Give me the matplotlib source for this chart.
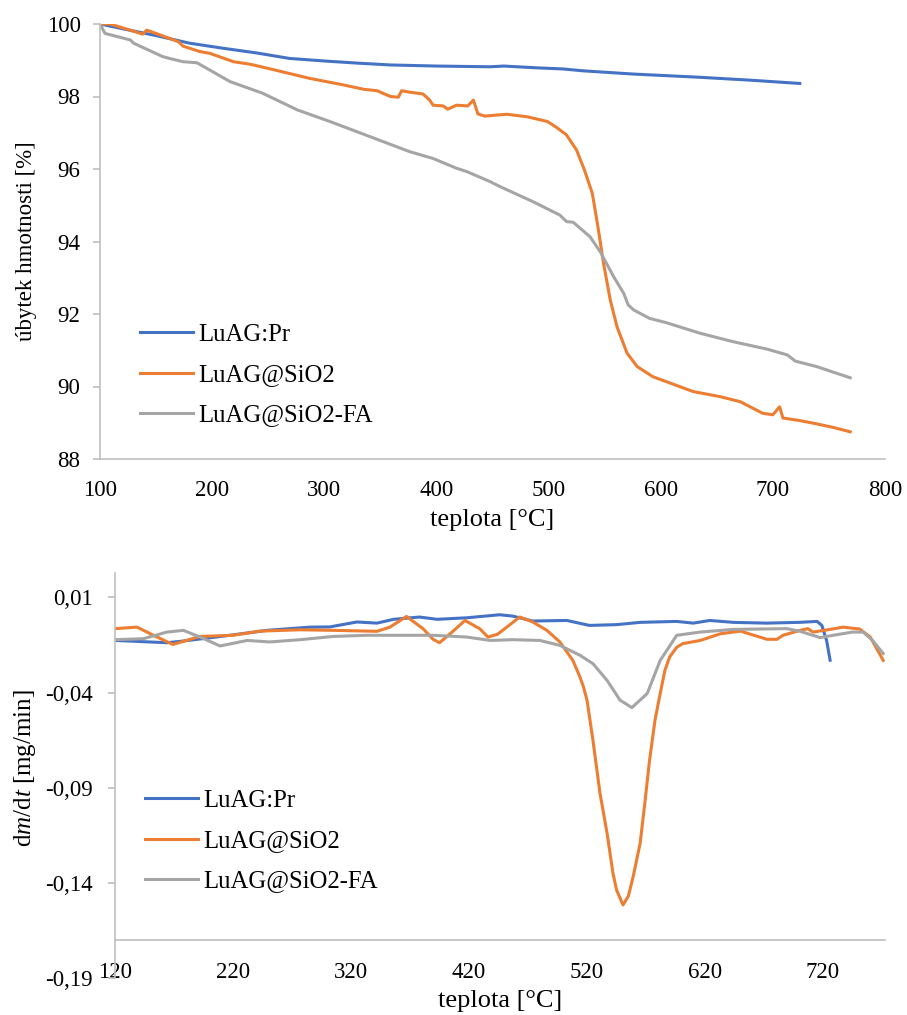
import matplotlib
matplotlib.use('Agg')
import matplotlib.pyplot as plt

plt.rcParams['font.family'] = ['Liberation Serif', 'DejaVu Serif']
plt.rcParams['font.size'] = 16.5
plt.rcParams['mathtext.fontset'] = 'custom'
plt.rcParams['mathtext.rm'] = 'Liberation Serif'
plt.rcParams['mathtext.it'] = 'Liberation Serif:italic'

# --- TG: mass loss [%] ---
t_pr = [100, 120, 150, 180, 210, 240, 269, 300, 330, 359, 400, 448, 460, 490, 513, 530,
        575, 635, 680, 724]
m_pr = [100, 99.87, 99.68, 99.47, 99.33, 99.2, 99.05, 98.98, 98.92, 98.87, 98.84, 98.82,
        98.84, 98.79, 98.76, 98.71, 98.62, 98.53, 98.45, 98.36]

t_sio2 = [100, 109, 130, 138, 141.6, 150, 170, 174, 189, 198, 219, 234, 252, 287, 317, 335,
          347, 359, 366, 369, 376, 388, 394, 397, 406, 410, 418, 428, 433, 437, 443, 463,
          481, 499, 507, 516, 525, 532, 539, 544, 549, 555, 561, 570, 579, 593, 629, 653,
          671, 691, 700, 706, 709, 724, 739, 754, 769]
m_sio2 = [100, 100, 99.8, 99.72, 99.83, 99.74, 99.51, 99.39, 99.24, 99.19, 98.96, 98.89,
          98.76, 98.50, 98.32, 98.20, 98.16, 98.0, 97.98, 98.16, 98.12, 98.07, 97.90, 97.76,
          97.74, 97.65, 97.76, 97.74, 97.90, 97.52, 97.46, 97.51, 97.44, 97.31, 97.15,
          96.94, 96.52, 95.97, 95.33, 94.41, 93.40, 92.39, 91.65, 90.92, 90.55, 90.27,
          89.86, 89.72, 89.58, 89.26, 89.22, 89.44, 89.13, 89.06, 88.97, 88.87, 88.75]

t_fa = [100, 104.5, 127, 130, 156, 162, 174, 186.5, 216, 245, 276, 305, 341, 376, 397, 418,
        427, 448, 457, 486, 510, 516, 522, 537, 546, 558, 567, 571, 576, 590, 605, 635,
        664, 695, 713, 720, 739, 769]
m_fa = [100, 99.74, 99.56, 99.47, 99.10, 99.05, 98.96, 98.93, 98.41, 98.09, 97.63, 97.31,
        96.89, 96.48, 96.29, 96.02, 95.93, 95.65, 95.51, 95.10, 94.73, 94.55, 94.53, 94.13,
        93.72, 93.03, 92.57, 92.25, 92.11, 91.88, 91.76, 91.47, 91.24, 91.03, 90.87, 90.70,
        90.55, 90.24]

# --- DTG: dm/dt [mg/min] ---
d_t_pr = [120, 164, 175, 206, 249, 285, 302, 325, 342, 356, 378, 393, 418, 446, 457, 474,
          503, 522, 545, 565, 596, 610, 624, 644, 672, 700, 715, 719, 723, 726]
d_pr = [-0.0126, -0.0138, -0.0131, -0.0108, -0.0073, -0.0056, -0.0055, -0.0029, -0.0035,
        -0.0015, -0.0003, -0.0015, -0.0007, 0.0009, 0.0002, -0.0024, -0.0021, -0.0047,
        -0.0043, -0.0031, -0.0026, -0.0035, -0.0021, -0.0031, -0.0035, -0.0031, -0.0026,
        -0.0047, -0.0126, -0.023]

d_t_sio2 = [120, 138.6, 155.6, 169, 192, 220, 243, 277, 305, 342, 353, 367, 381, 389.5, 395,
            404, 416.6, 429, 436, 444, 452, 463, 474, 486, 497, 508, 514, 517, 520, 522.5,
            525, 531, 537, 539.5, 542, 545, 548, 550.5, 555, 559, 565, 569, 573, 577.6, 582,
            586, 590, 596, 601, 616, 633, 650, 672.5, 681, 686, 700.5, 707, 711.5, 726, 737,
            751, 760, 771]
d_sio2 = [-0.0064, -0.0056, -0.0108, -0.0147, -0.0105, -0.0099, -0.0077, -0.0070, -0.0073,
          -0.0078, -0.0056, 0.0000, -0.0064, -0.0120, -0.0138, -0.0091, -0.0021, -0.0064,
          -0.0108, -0.0094, -0.0056, -0.0003, -0.0029, -0.0073, -0.0134, -0.0231, -0.0318,
          -0.0371, -0.044, -0.0545, -0.065, -0.093, -0.114, -0.1245, -0.135, -0.1437,
          -0.148, -0.1516, -0.147, -0.137, -0.1192, -0.098, -0.0755, -0.0545, -0.0405,
          -0.0283, -0.0213, -0.0162, -0.0143, -0.0126, -0.0091, -0.0077, -0.0120, -0.0120,
          -0.0099, -0.0073, -0.0064, -0.0082, -0.0068, -0.0056, -0.0066, -0.0108, -0.0231]

d_t_fa = [120, 144, 164, 178, 192, 209, 232, 251, 277, 305, 333, 362, 390, 418, 438, 457,
          480, 497, 514, 525, 537, 548, 558, 571, 582, 596, 616, 644, 689.5, 700.5, 717.5,
          728.5, 745, 754, 762, 771]
d_fa = [-0.0122, -0.0117, -0.0082, -0.0073, -0.0108, -0.0155, -0.0126, -0.0134, -0.0122,
        -0.0105, -0.0099, -0.0099, -0.0099, -0.0108, -0.0126, -0.0122, -0.0126, -0.0152,
        -0.0204, -0.0248, -0.0336, -0.0440, -0.0479, -0.0405, -0.0231, -0.0099, -0.0082,
        -0.0068, -0.0064, -0.0078, -0.0111, -0.0099, -0.0082, -0.0082, -0.0126, -0.0195]

names = ['LuAG:Pr', 'LuAG@SiO2', 'LuAG@SiO2-FA']
colors = ['#4472C4', '#ED7D31', '#A5A5A5']

top_xticks = [100, 200, 300, 400, 500, 600, 700, 800]
top_yticks = [88, 90, 92, 94, 96, 98, 100]
bot_xticks = [120, 220, 320, 420, 520, 620, 720]
bot_yticks = [0.01, -0.04, -0.09, -0.14, -0.19]
bot_ylabels = ['0,01', '-0,04', '-0,09', '-0,14', '-0,19']

axis_gray = '#BFBFBF'
lw = 2.2
xlab_fs = 19
leg_fs = 17.8

fig = plt.figure(figsize=(9.07, 10.15), dpi=100)
W, H = 907, 1015

def style(ax):
    for s in ['top', 'right']:
        ax.spines[s].set_visible(False)
    for s in ['left', 'bottom']:
        ax.spines[s].set_color(axis_gray)
        ax.spines[s].set_linewidth(1.2)
    ax.tick_params(axis='x', length=0)
    ax.tick_params(axis='y', length=5, width=1.2, color=axis_gray)

leg_kw = dict(bbox_transform=fig.transFigure, frameon=False, borderpad=0, borderaxespad=0,
              handlelength=2.15, handletextpad=0.2, labelspacing=0.73, fontsize=leg_fs,
              loc='center left')

# top chart
ax1 = fig.add_axes([100 / W, 1 - 459 / H, 785 / W, 435 / H])
ax1.plot(t_pr, m_pr, color=colors[0], lw=lw, label=names[0])
ax1.plot(t_sio2, m_sio2, color=colors[1], lw=lw, label=names[1])
ax1.plot(t_fa, m_fa, color=colors[2], lw=lw, label=names[2])
ax1.set_xlim(100, 800)
ax1.set_ylim(88, 100)
ax1.set_xticks(top_xticks)
ax1.set_yticks(top_yticks)
style(ax1)
ax1.tick_params(axis='x', pad=15)
ax1.tick_params(axis='y', pad=9)
ax1.set_xlabel('teplota [°C]', fontsize=xlab_fs)
ax1.xaxis.set_label_coords(0.5, -0.115)
ax1.set_ylabel('úbytek hmotnosti [%]')
ax1.yaxis.set_label_coords(-0.08, 0.5)
ax1.legend(bbox_to_anchor=(140 / W, 1 - 375 / H), **leg_kw)

# bottom chart
ax2 = fig.add_axes([115 / W, 1 - 978 / H, 770 / W, 405.3 / H])
ax2.plot(d_t_pr, d_pr, color=colors[0], lw=lw, label=names[0])
ax2.plot(d_t_sio2, d_sio2, color=colors[1], lw=lw, label=names[1])
ax2.plot(d_t_fa, d_fa, color=colors[2], lw=lw, label=names[2])
ax2.set_xlim(120, 772.5)
ax2.set_ylim(-0.19, 0.023)
ax2.set_xticks(bot_xticks)
ax2.set_yticks(bot_yticks)
ax2.set_yticklabels(bot_ylabels)
style(ax2)
ax2.spines['bottom'].set_position(('data', -0.17))
ax2.tick_params(axis='x', pad=16)
ax2.tick_params(axis='y', pad=11)
ax2.set_xlabel('teplota [°C]', fontsize=xlab_fs)
ax2.xaxis.set_label_coords(0.5, -0.03)
ax2.set_ylabel('d$m$/d$t$ [mg/min]', fontsize=18)
ax2.yaxis.set_label_coords(-0.1, 0.518)
ax2.legend(bbox_to_anchor=(145 / W, 1 - 841 / H), **leg_kw)

fig.savefig('out.png', dpi=100)
